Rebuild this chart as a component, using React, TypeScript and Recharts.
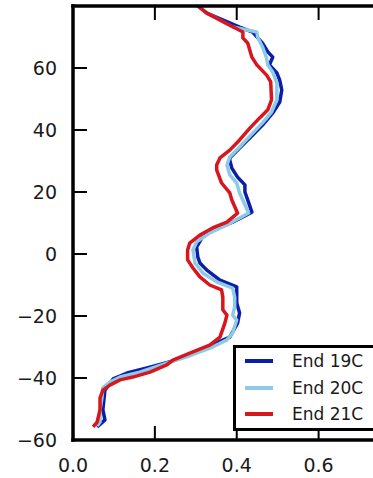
import React from 'react';
import { LineChart, Line, XAxis, YAxis, Legend } from 'recharts';

// End 19C profile (latitude, value)
const end19Lat = [80, 77.7, 73.2, 71.6, 68, 65.2, 63.5, 62.6, 61, 58.4, 56.1, 52.9, 49, 45.5, 41.6, 38.4, 34.2, 31, 30.3, 27.7, 24.8, 22.3, 20, 17.4, 13.5, 12.6, 10.3, 7.7, 5.2, 2.3, -1, -2.9, -5.2, -8.4, -10.6, -13.9, -15.8, -19, -22.3, -26.8, -28.7, -32.6, -34.5, -36.5, -38.4, -40.3, -43.9, -50.3, -53.5, -55.8];
const end19Val = [0.305, 0.327, 0.407, 0.439, 0.463, 0.476, 0.488, 0.485, 0.48, 0.498, 0.505, 0.51, 0.505, 0.488, 0.463, 0.439, 0.407, 0.383, 0.383, 0.388, 0.402, 0.42, 0.42, 0.427, 0.437, 0.424, 0.39, 0.341, 0.315, 0.302, 0.305, 0.31, 0.327, 0.359, 0.4, 0.4, 0.4, 0.407, 0.402, 0.383, 0.351, 0.278, 0.244, 0.188, 0.132, 0.098, 0.078, 0.073, 0.078, 0.059];

// End 20C
const end20Lat = [80, 77.7, 73.2, 71.6, 70, 66.8, 63.2, 61, 58.7, 55.2, 49.7, 45.8, 42.3, 39, 34.5, 31.3, 28.7, 25.5, 22.9, 19.7, 17.4, 13.2, 11.6, 9.4, 6.8, 3.9, 1.3, -2.9, -6.1, -9, -11, -13.9, -17.1, -19.7, -21.3, -25.5, -27.7, -30, -33.2, -35.2, -38.1, -39.7, -41.3, -43.2, -46.1, -50.3, -54.2, -55.5];
const end20Val = [0.305, 0.327, 0.39, 0.449, 0.451, 0.463, 0.473, 0.476, 0.488, 0.498, 0.498, 0.485, 0.463, 0.439, 0.407, 0.383, 0.376, 0.383, 0.4, 0.407, 0.415, 0.429, 0.407, 0.376, 0.334, 0.302, 0.293, 0.298, 0.317, 0.351, 0.39, 0.395, 0.395, 0.39, 0.4, 0.39, 0.376, 0.341, 0.278, 0.229, 0.163, 0.115, 0.09, 0.073, 0.071, 0.066, 0.066, 0.059];

// End 21C
const end21Lat = [80, 77.7, 71.6, 69.7, 68, 63.5, 61, 57.7, 55.5, 49.7, 46.5, 43.9, 40.6, 36.8, 33.5, 31, 28.7, 27.1, 22.9, 19.7, 17.4, 13.2, 10.3, 8.4, 6.1, 3.5, 1.3, -1.9, -4.5, -7.4, -10, -11.6, -13.9, -18, -19.7, -22.3, -26.8, -29.4, -31.6, -34.2, -35.8, -38.1, -39.7, -40.6, -42.3, -43.9, -46.5, -50.3, -54.2, -55.8];
const end21Val = [0.305, 0.327, 0.415, 0.415, 0.427, 0.437, 0.449, 0.473, 0.483, 0.485, 0.476, 0.456, 0.432, 0.407, 0.383, 0.359, 0.351, 0.351, 0.363, 0.383, 0.388, 0.402, 0.376, 0.341, 0.31, 0.285, 0.28, 0.28, 0.293, 0.31, 0.334, 0.363, 0.366, 0.366, 0.376, 0.371, 0.359, 0.334, 0.293, 0.244, 0.229, 0.188, 0.146, 0.115, 0.09, 0.073, 0.066, 0.066, 0.059, 0.049];

const xTicks = [0, 0.2, 0.4, 0.6];
const yTicks = [-60, -40, -20, 0, 20, 40, 60];

const build = (lat: number[], val: number[]) => lat.map((l, i) => ({ lat: l, v: val[i] }));

const series = [
  { name: 'End 19C', color: '#0a1eaa', data: build(end19Lat, end19Val) },
  { name: 'End 20C', color: '#8ecae6', data: build(end20Lat, end20Val) },
  { name: 'End 21C', color: '#d7161e', data: build(end21Lat, end21Val) },
];

const FONT = '"DejaVu Sans", sans-serif';
const TICK = 14;

const fmtMinus = (v: number) => (v < 0 ? '\u2212' + Math.abs(v) : String(v));

const BottomTick = (props: any) => {
  const { x, y, payload } = props;
  return (
    <g>
      <line x1={x} y1={y} x2={x} y2={y - TICK} stroke="#000" strokeWidth={2} />
      <text x={x} y={y + 32} textAnchor="middle" fontSize={19} fill="#1a1a1a" fontFamily={FONT}>
        {payload.value.toFixed(1)}
      </text>
    </g>
  );
};

const LeftTick = (props: any) => {
  const { x, y, payload } = props;
  return (
    <g>
      <line x1={x} y1={y} x2={x + TICK} y2={y} stroke="#000" strokeWidth={2} />
      <text x={x - 16} y={y + 7} textAnchor="end" fontSize={19} fill="#1a1a1a" fontFamily={FONT}>
        {fmtMinus(payload.value)}
      </text>
    </g>
  );
};

const TopTick = (props: any) => {
  const { x, y } = props;
  return <line x1={x} y1={y} x2={x} y2={y + TICK} stroke="#000" strokeWidth={2} />;
};

const RightTick = (props: any) => {
  const { x, y } = props;
  return <line x1={x} y1={y} x2={x - TICK} y2={y} stroke="#000" strokeWidth={2} />;
};

const LegendBox = () => (
  <div
    style={{
      border: '3px solid #000',
      background: '#fff',
      width: 150,
      fontFamily: FONT,
      fontSize: 17,
      color: '#1a1a1a',
    }}
  >
    {series.map(s => (
      <div key={s.name} style={{ height: 26.5, display: 'flex', alignItems: 'center' }}>
        <div style={{ marginLeft: 9, width: 28, height: 4, background: s.color }} />
        <span style={{ marginLeft: 19, lineHeight: '26.5px' }}>{s.name}</span>
      </div>
    ))}
  </div>
);

const axisLine = { stroke: '#000', strokeWidth: 3.5, strokeLinecap: 'square' as const };

export default function App() {
  return (
    <div style={{ position: 'absolute', left: 0, top: 0, width: 373, height: 478, overflow: 'hidden', background: '#fff' }}>
      <LineChart
        width={389}
        height={478}
        layout="vertical"
        margin={{ top: 5, right: 8, bottom: 0, left: 0 }}
      >
        <XAxis
          type="number"
          dataKey="v"
          domain={[0, 0.75]}
          ticks={xTicks}
          height={38}
          tickSize={0}
          tickMargin={0}
          tickLine={false}
          axisLine={axisLine}
          tick={<BottomTick />}
          allowDataOverflow
        />
        <XAxis
          xAxisId="top"
          orientation="top"
          type="number"
          domain={[0, 0.75]}
          ticks={[0.2, 0.4, 0.6]}
          height={1}
          tickSize={0}
          tickMargin={0}
          tickLine={false}
          axisLine={axisLine}
          tick={<TopTick />}
          allowDataOverflow
        />
        <YAxis
          type="number"
          dataKey="lat"
          domain={[-60, 80]}
          ticks={yTicks}
          reversed
          width={73}
          tickSize={0}
          tickMargin={0}
          tickLine={false}
          axisLine={axisLine}
          tick={<LeftTick />}
          allowDataOverflow
        />
        <YAxis
          yAxisId="right"
          orientation="right"
          type="number"
          domain={[-60, 80]}
          ticks={yTicks}
          reversed
          width={1}
          tickSize={0}
          tickMargin={0}
          tickLine={false}
          axisLine={axisLine}
          tick={<RightTick />}
          allowDataOverflow
        />
        {series.map(s => (
          <Line
            key={s.name}
            data={s.data}
            dataKey="v"
            name={s.name}
            stroke={s.color}
            strokeWidth={3.5}
            strokeLinejoin="round"
            dot={false}
            isAnimationActive={false}
          />
        ))}
        <Legend
          content={<LegendBox />}
          layout="horizontal"
          verticalAlign="middle"
          align="center"
          wrapperStyle={{ position: 'absolute', left: 233, top: 345, width: 150 }}
        />
      </LineChart>
    </div>
  );
}
